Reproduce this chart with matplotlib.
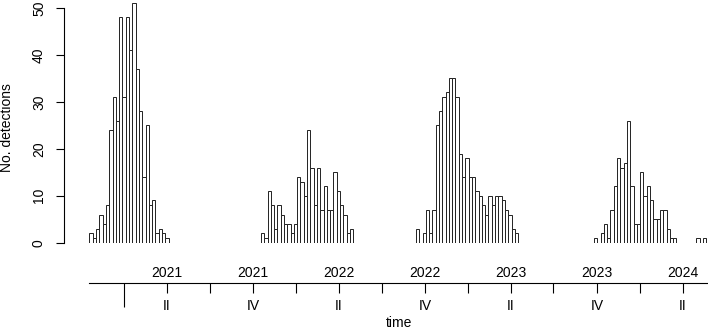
import matplotlib
matplotlib.use("Agg")
import matplotlib.pyplot as plt
import matplotlib.dates as mdates
import numpy as np
import pandas as pd

plt.rcParams['font.family'] = ['Liberation Sans', 'DejaVu Sans']

# weekly detections, one list per season (first week given by start date)
season1_start = "2020-10-19"
season1 = [2, 1, 3, 6, 4, 8, 24, 31, 26, 48, 31, 48, 41, 51, 37, 28, 14, 25, 8, 9, 2, 3, 2, 1]
season2_start = "2021-10-18"
season2 = [2, 1, 11, 8, 3, 8, 6, 4, 4, 2, 4, 14, 13, 10, 24, 16, 8, 16, 7, 12, 7, 7, 15, 11, 8, 6, 2, 3]
season3_start = "2022-09-12"
season3 = [3, 0, 2, 7, 2, 7, 25, 28, 31, 32, 35, 35, 31, 19, 14, 18, 14, 14, 11, 10, 8, 6, 10, 8, 10, 10, 9, 7, 6, 3, 2]
season4_start = "2023-09-25"
season4 = [1, 0, 2, 4, 1, 7, 12, 18, 16, 17, 26, 12, 4, 4, 15, 10, 12, 9, 5, 5, 7, 7, 3, 1, 1]
late_weeks = ["2024-04-29", "2024-05-13"]
late_counts = [1, 1]

first_week = pd.Timestamp("2020-10-19")
x_min = pd.Timestamp("2020-08-26")
x_max = pd.Timestamp("2024-05-24")
quarter_ticks = pd.date_range("2021-04-01", "2024-04-01", freq="QS-APR")
year_ticks = pd.date_range("2021-01-01", "2024-01-01", freq="YS")

fig = plt.figure(figsize=(7.08, 3.31), dpi=100)
W, H = 708, 331
ax = fig.add_axes([64 / W, (H - 242.7) / H, (W - 64) / W, 242.7 / H])

for start, counts in [(season1_start, season1), (season2_start, season2),
                      (season3_start, season3), (season4_start, season4)]:
    weeks = pd.date_range(start, periods=len(counts), freq="7D")
    c = np.array(counts)
    ax.bar(weeks[c > 0], c[c > 0], width=7, align="edge",
           color="white", edgecolor="#222222", linewidth=0.7)
ax.bar(pd.to_datetime(late_weeks), late_counts, width=7, align="edge",
       color="white", edgecolor="#222222", linewidth=0.7)

ax.set_xlim(x_min, x_max)
ax.set_ylim(0, 51.7)
for s in ["top", "right", "bottom"]:
    ax.spines[s].set_visible(False)
ax.spines["left"].set_bounds(0, 50)
ax.spines["left"].set_linewidth(0.8)
ax.set_xticks([])
ax.set_yticks([0, 10, 20, 30, 40, 50])
ax.tick_params(axis="y", length=6, width=0.8, pad=7, labelsize=10)
for lab in ax.get_yticklabels():
    lab.set_rotation(90)
    lab.set_va("center")
fig.text(7 / W, 1 - 128 / H, "No. detections", rotation=90,
         ha="center", va="center", fontsize=10)

# time axis below the plot
axt = fig.add_axes([64 / W, (H - 300) / H, (W - 64) / W, 17 / H])
axt.set_xlim(x_min, x_max)
axt.set_ylim(0, 1)
axt.patch.set_visible(False)
for s in ["left", "right", "bottom"]:
    axt.spines[s].set_visible(False)
axt.spines["top"].set_bounds(mdates.date2num(first_week), mdates.date2num(x_max))
axt.spines["top"].set_linewidth(0.8)
axt.set_yticks([])
axt.xaxis.tick_top()
axt.set_xticks(quarter_ticks)
axt.set_xticklabels(["" if q.month in (1, 7) else str(q.year) for q in quarter_ticks])
axt.set_xticks(year_ticks, minor=True)
axt.tick_params(axis="x", which="major", direction="in", length=7, width=0.8,
                pad=2, labelsize=10)
axt.tick_params(axis="x", which="minor", direction="in", length=17, width=0.8)
for q in quarter_ticks:
    if q.month == 4:
        axt.text(q, -0.35, "II", ha="center", va="center", fontsize=10)
    elif q.month == 10:
        axt.text(q, -0.35, "IV", ha="center", va="center", fontsize=10)
fig.text((90 + 708) / 2 / W, 1 - 323 / H, "time", ha="center", va="center", fontsize=10)

fig.savefig("out.png", dpi=100)
